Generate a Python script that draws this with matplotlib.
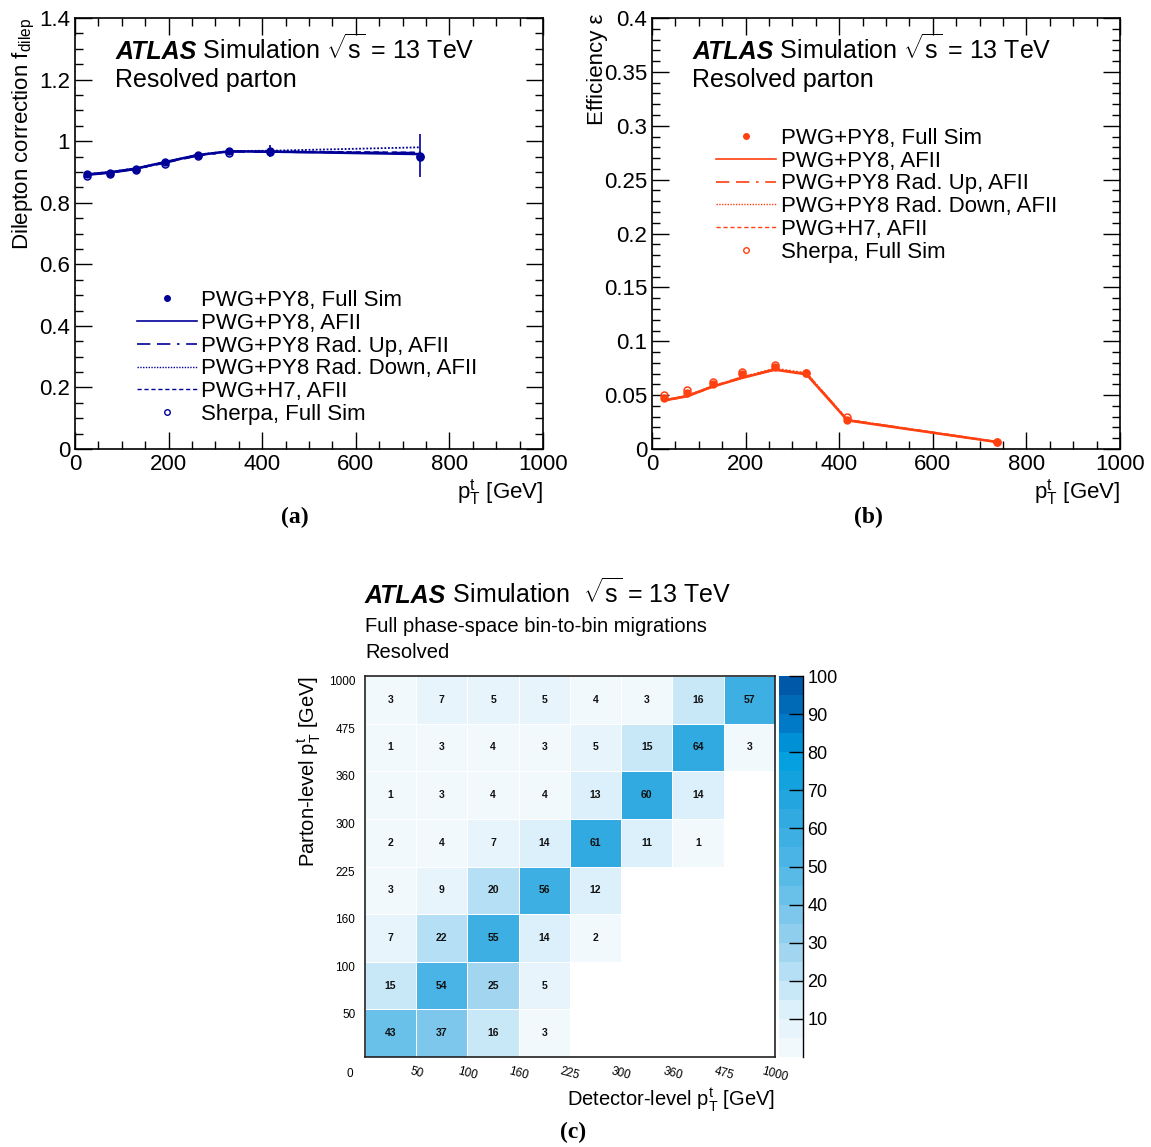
import numpy as np
import matplotlib
matplotlib.use("Agg")
import matplotlib.pyplot as plt
from matplotlib.lines import Line2D
from matplotlib.colors import LinearSegmentedColormap, BoundaryNorm
from matplotlib.ticker import MultipleLocator, FuncFormatter

plt.rcParams['font.family'] = ['Liberation Sans', 'DejaVu Sans']
plt.rcParams['mathtext.fontset'] = 'custom'
plt.rcParams['mathtext.rm'] = 'Liberation Sans'
plt.rcParams['mathtext.it'] = 'Liberation Sans:italic'
plt.rcParams['mathtext.bf'] = 'Liberation Sans:bold'

# ---------------- data ----------------
bin_centres = [25, 75, 130, 192.5, 262.5, 330, 417.5, 737.5]

# panel (a): dilepton correction
fullsim_a = [0.893, 0.898, 0.910, 0.931, 0.954, 0.969, 0.967, 0.952]
fullsim_a_err = [0.003, 0.003, 0.003, 0.003, 0.004, 0.005, 0.020, 0.070]
afii_a = [0.892, 0.899, 0.911, 0.932, 0.955, 0.967, 0.966, 0.958]
radup_a = [0.890, 0.897, 0.909, 0.930, 0.953, 0.966, 0.965, 0.962]
raddown_a = [0.893, 0.900, 0.912, 0.933, 0.956, 0.968, 0.969, 0.980]
h7_a = [0.891, 0.898, 0.910, 0.931, 0.954, 0.967, 0.967, 0.963]
sherpa_a = [0.887, 0.893, 0.905, 0.927, 0.951, 0.962, 0.966, 0.950]

# panel (b): efficiency
fullsim_b = [0.0477, 0.0523, 0.0607, 0.0700, 0.0761, 0.0703, 0.0266, 0.0065]
afii_b = [0.0450, 0.0490, 0.0580, 0.0660, 0.0737, 0.0693, 0.0266, 0.0065]
radup_b = [0.0452, 0.0493, 0.0583, 0.0665, 0.0740, 0.0700, 0.0270, 0.0066]
raddown_b = [0.0455, 0.0495, 0.0585, 0.0668, 0.0748, 0.0705, 0.0272, 0.0067]
h7_b = [0.0448, 0.0488, 0.0578, 0.0662, 0.0735, 0.0698, 0.0268, 0.0064]
sherpa_b = [0.0505, 0.0551, 0.0625, 0.0718, 0.0777, 0.0705, 0.0300, 0.0068]

legend_labels = ["PWG+PY8, Full Sim", "PWG+PY8, AFII", "PWG+PY8 Rad. Up, AFII",
                 "PWG+PY8 Rad. Down, AFII", "PWG+H7, AFII", "Sherpa, Full Sim"]

# panel (c): migration matrix (rows = parton-level bins, bottom to top)
bin_edge_labels = ["0", "50", "100", "160", "225", "300", "360", "475", "1000"]
nan = np.nan
row_0_50 = [43, 37, 16, 3, nan, nan, nan, nan]
row_50_100 = [15, 54, 25, 5, nan, nan, nan, nan]
row_100_160 = [7, 22, 55, 14, 2, nan, nan, nan]
row_160_225 = [3, 9, 20, 56, 12, nan, nan, nan]
row_225_300 = [2, 4, 7, 14, 61, 11, 1, nan]
row_300_360 = [1, 3, 4, 4, 13, 60, 14, nan]
row_360_475 = [1, 3, 4, 3, 5, 15, 64, 3]
row_475_1000 = [3, 7, 5, 5, 4, 3, 16, 57]
migration = np.array([row_0_50, row_50_100, row_100_160, row_160_225,
                      row_225_300, row_300_360, row_360_475, row_475_1000])

# ---------------- figure ----------------
fig = plt.figure(figsize=(11.51, 11.47), dpi=100)

FS = 16
PT = r"$\mathrm{p}_{\mathrm{T}}^{\mathrm{t}}$"


def root_style(ax, xmaj, xmin, ymaj, ymin):
    ax.xaxis.set_major_locator(MultipleLocator(xmaj))
    ax.xaxis.set_minor_locator(MultipleLocator(xmin))
    ax.yaxis.set_major_locator(MultipleLocator(ymaj))
    ax.yaxis.set_minor_locator(MultipleLocator(ymin))
    ax.tick_params(which='both', direction='in', top=True, right=True,
                   labelsize=FS, width=1.0)
    ax.tick_params(which='major', length=12)
    ax.tick_params(which='minor', length=6)
    fmt = FuncFormatter(lambda v, p: "%g" % round(v, 6))
    ax.xaxis.set_major_formatter(fmt)
    ax.yaxis.set_major_formatter(fmt)
    for s in ax.spines.values():
        s.set_linewidth(1.2)


def atlas_label(ax, x, y, rest, size=18):
    t1 = ax.text(x, y, "ATLAS", transform=ax.transAxes, fontsize=size,
                 fontweight='bold', fontstyle='italic', va='center', ha='left')
    ax.annotate(rest, xy=(1, 0), xycoords=t1, va='bottom', ha='left',
                fontsize=size)


def draw_panel(ax, color, fullsim, fullsim_err, afii, radup, raddown, h7, sherpa):
    ax.errorbar(bin_centres, fullsim, yerr=fullsim_err, fmt='o', ms=5,
                color=color, elinewidth=1.2, capsize=0, zorder=5)
    ax.plot(bin_centres, afii, '-', color=color, lw=1.8)
    ax.plot(bin_centres, radup, color=color, lw=1.5, dashes=(10, 4, 10, 4, 1.5, 4))
    ax.plot(bin_centres, raddown, color=color, lw=1.3, ls=(0, (1, 1)))
    ax.plot(bin_centres, h7, color=color, lw=1.3, ls=(0, (3, 2)))
    ax.plot(bin_centres, sherpa, 'o', ms=5, mfc='none', mec=color, mew=1.1)
    handles = [
        Line2D([], [], ls='none', marker='o', ms=4, color=color),
        Line2D([], [], ls='-', lw=1.2, color=color),
        Line2D([], [], lw=1.2, color=color, dashes=(8, 4, 8, 4, 1.5, 4)),
        Line2D([], [], lw=1.0, color=color, ls=(0, (1, 1))),
        Line2D([], [], lw=1.0, color=color, ls=(0, (3, 2))),
        Line2D([], [], ls='none', marker='o', ms=4, mfc='none', mec=color, mew=1.0),
    ]
    return handles


LEG = dict(loc='upper left', frameon=False, fontsize=FS, handlelength=2.7,
           handletextpad=0.2, labelspacing=0.08, borderpad=0, borderaxespad=0)

# ---- panel (a)
axA = fig.add_axes([0.0652, 0.6085, 0.4066, 0.3758])
colA = '#000099'
hA = draw_panel(axA, colA, fullsim_a, fullsim_a_err, afii_a, radup_a, raddown_a, h7_a, sherpa_a)
axA.set_xlim(0, 1000)
axA.set_ylim(0, 1.4)
root_style(axA, 200, 50, 0.2, 0.05)
axA.set_ylabel(r"Dilepton correction f$_{\mathrm{dilep}}$", fontsize=FS, loc='top')
axA.yaxis.set_label_coords(-0.082, 1.0)
axA.set_xlabel(PT + " [GeV]", fontsize=FS, loc='right')
axA.xaxis.set_label_coords(1.0, -0.065)
atlas_label(axA, 0.0855, 0.921, r" Simulation $\sqrt{\mathrm{s}}$ = 13 TeV")
axA.text(0.0855, 0.856, "Resolved parton", transform=axA.transAxes, fontsize=18,
         va='center', ha='left')
axA.legend(hA, legend_labels, bbox_to_anchor=(0.1325, 0.369), **LEG)
fig.text(0.2563, 0.549, "(a)", fontsize=17, fontweight='bold',
         family=['Liberation Serif', 'DejaVu Serif'], ha='center', va='center')

# ---- panel (b)
axB = fig.add_axes([0.5665, 0.6085, 0.4066, 0.3758])
colB = '#ff4010'
hB = draw_panel(axB, colB, fullsim_b, [0] * 8, afii_b, radup_b, raddown_b, h7_b, sherpa_b)
axB.set_xlim(0, 1000)
axB.set_ylim(0, 0.4)
root_style(axB, 200, 50, 0.05, 0.01)
axB.set_ylabel("Efficiency ε", fontsize=FS, loc='top')
axB.yaxis.set_label_coords(-0.095, 1.01)
axB.set_xlabel(PT + " [GeV]", fontsize=FS, loc='right')
axB.xaxis.set_label_coords(1.0, -0.065)
atlas_label(axB, 0.0855, 0.921, r" Simulation $\sqrt{\mathrm{s}}$ = 13 TeV")
axB.text(0.0855, 0.856, "Resolved parton", transform=axB.transAxes, fontsize=18,
         va='center', ha='left')
axB.legend(hB, legend_labels, bbox_to_anchor=(0.1368, 0.745), **LEG)
fig.text(0.7541, 0.549, "(b)", fontsize=17, fontweight='bold',
         family=['Liberation Serif', 'DejaVu Serif'], ha='center', va='center')

# ---- panel (c)
axC = fig.add_axes([0.3171, 0.0785, 0.3562, 0.3321])
cax = fig.add_axes([0.6768, 0.0785, 0.0209, 0.3321])

cmap = LinearSegmentedColormap.from_list("atlasblue", [
    (0.00, '#f2f9fd'), (0.10, '#dcf0fa'), (0.20, '#b8e0f4'), (0.30, '#95d0ee'),
    (0.40, '#6fc2ea'), (0.50, '#4fb6e6'), (0.60, '#38ade2'), (0.70, '#1ea4df'),
    (0.80, '#009fe0'), (0.90, '#0078c4'), (1.00, '#0058a8')])
levels = np.arange(0, 105, 5)
norm = BoundaryNorm(levels, cmap.N)
edges = np.arange(len(bin_edge_labels))
mesh = axC.pcolormesh(edges, edges, np.ma.masked_invalid(migration), cmap=cmap,
                      norm=norm, edgecolors='white', linewidth=0.5)
for i in range(migration.shape[0]):
    for j in range(migration.shape[1]):
        v = migration[i, j]
        if not np.isnan(v):
            axC.text(j + 0.5, i + 0.5, "%d" % v, ha='center', va='center',
                     fontsize=7.5, fontweight='bold', color='#111111')
axC.set_xlim(0, 8)
axC.set_ylim(0, 8)
axC.set_xticks(edges[1:])
axC.set_xticklabels(bin_edge_labels[1:], rotation=-15, fontsize=8.5,
                    ha='center', va='top')
axC.set_yticks(edges[1:])
axC.set_yticklabels(bin_edge_labels[1:], fontsize=8.5, va='top')
axC.tick_params(axis='x', length=0, pad=6)
axC.tick_params(axis='y', length=0, pad=7)
axC.annotate(bin_edge_labels[0], xy=(0, 0), xycoords='data', xytext=(-11, -12),
             textcoords='offset points', fontsize=8.5, ha='center', va='center')
for s in axC.spines.values():
    s.set_linewidth(1.2)
    s.set_color('#222222')
axC.set_xlabel("Detector-level " + PT + " [GeV]", fontsize=14.5, loc='right')
axC.xaxis.set_label_coords(1.0, -0.075)
axC.set_ylabel("Parton-level " + PT + " [GeV]", fontsize=14.5, loc='top')
axC.yaxis.set_label_coords(-0.105, 1.0)

t1 = axC.text(0.0, 1.21, "ATLAS", transform=axC.transAxes, fontsize=18,
              fontweight='bold', fontstyle='italic', va='center', ha='left')
axC.annotate(r" Simulation  $\sqrt{\mathrm{s}}$ = 13 TeV", xy=(1, 0), xycoords=t1,
             va='bottom', ha='left', fontsize=18)
axC.text(0.0, 1.131, "Full phase-space bin-to-bin migrations", transform=axC.transAxes,
         fontsize=14.5, va='center', ha='left')
axC.text(0.0, 1.063, "Resolved", transform=axC.transAxes, fontsize=14.5,
         va='center', ha='left')

cb = fig.colorbar(mesh, cax=cax, ticks=np.arange(10, 101, 10))
cb.outline.set_visible(False)
cax.spines['right'].set_visible(True)
cax.spines['right'].set_linewidth(1.0)
cax.tick_params(direction='in', length=10, width=1.0, labelsize=13, pad=3)
cax.minorticks_off()

fig.text(0.4978, 0.0126, "(c)", fontsize=17, fontweight='bold',
         family=['Liberation Serif', 'DejaVu Serif'], ha='center', va='center')

fig.savefig("out.png", dpi=100)
